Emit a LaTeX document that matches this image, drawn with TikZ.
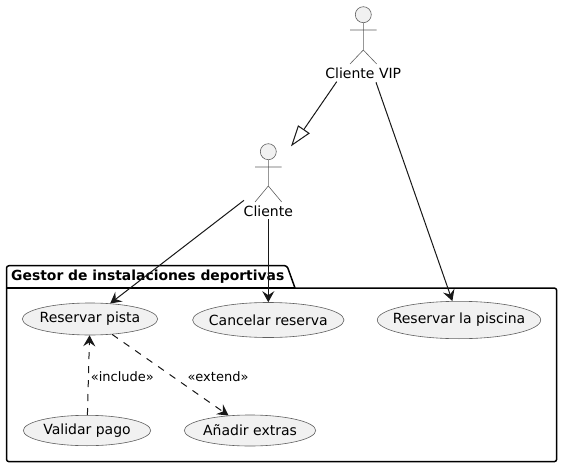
\documentclass[tikz,border=0pt]{standalone}
\usepackage{fontspec}
\setmainfont{DejaVu Sans}
\usetikzlibrary{arrows.meta,shapes.geometric}
\definecolor{ink}{HTML}{181818}
\definecolor{thin}{HTML}{606060}
\definecolor{ucfill}{HTML}{F1F1F1}
\tikzset{
  uc/.style={ellipse,draw=thin,line width=0.6pt,fill=ucfill,inner sep=0pt,font=\fontsize{14pt}{16pt}\selectfont,text=black},
  lbl/.style={inner sep=0pt,font=\fontsize{14pt}{16pt}\selectfont,text=black},
  smalllbl/.style={inner sep=0pt,font=\fontsize{13pt}{15pt}\selectfont,text=black},
  stick/.style={draw=thin,line width=0.6pt},
  head/.style={circle,draw=thin,line width=0.6pt,fill=ucfill,minimum size=16pt,inner sep=0pt},
  pkg/.style={draw=black,line width=1.5pt,line join=round},
  rel/.style={draw=ink,line width=1pt,-{Stealth[length=11pt,width=12pt,inset=4pt]}},
  dashrel/.style={rel,dash pattern=on 7pt off 7pt},
  gen/.style={draw=ink,line width=1pt}
}
\newcommand{\uctext}[1]{\makebox[0pt][c]{#1}}
\begin{document}
\begin{tikzpicture}[x=1pt,y=-1pt]
\path[fill=white] (0,0) rectangle (562,468);
\useasboundingbox (0,0) rectangle (562,468);
% package
\draw[pkg,rounded corners=2.5pt] (6.5,288) -- (6.5,265.7) -- (287,265.7) -- (295,288);
\draw[pkg,rounded corners=2.5pt] (295,288) -- (556.7,288) -- (556.7,461.7) -- (6.5,461.7) -- (6.5,288);
\draw[pkg] (6.5,288) -- (295,288);
\node[anchor=west,inner sep=0pt,font=\fontsize{13.9pt}{16pt}\selectfont\bfseries,text=black] (pkgtitle) at (11,276.5) {Gestor de instalaciones deportivas};
% actors
\node[head] (viphead) at (363.3,14.7) {};
\draw[stick] (viphead.south) -- (363.3,50) (350,30) -- (376.7,30) (350,64) -- (363.3,50) -- (376.7,64);
\node[lbl] (vip) at (363.3,73) {Cliente VIP};
\node[head] (clihead) at (268.3,151.7) {};
\draw[stick] (clihead.south) -- (268.3,186) (255,167) -- (281.7,167) (255,202) -- (268.3,186) -- (281.7,202);
\node[lbl] (cli) at (268.3,211) {Cliente};
% use cases
\node[uc,minimum width=135.4pt,minimum height=32pt] (res) at (90,319) {\uctext{Reservar pista}};
\node[uc,minimum width=151.4pt,minimum height=35pt] (can) at (268.3,320) {\uctext{Cancelar reserva}};
\node[uc,minimum width=163.4pt,minimum height=37.4pt] (pis) at (459,320) {\uctext{Reservar la piscina}};
\node[uc,minimum width=127.4pt,minimum height=30.4pt] (val) at (87,430.5) {\uctext{Validar pago}};
\node[uc,minimum width=131.4pt,minimum height=31pt] (ana) at (250,430.5) {\uctext{Añadir extras}};
% connector ends
\coordinate (vipA) at (336.7,81.7);
\coordinate (vipB) at (376,82.3);
\coordinate (cliA) at (244,200.3);
\coordinate (cliB) at (268.3,219);
\coordinate (genEnd) at (303.7,129.7);
\coordinate (genTip) at (292,145);
\coordinate (genL) at (298.3,126);
\coordinate (genR) at (309,133.3);
% connectors
\draw[gen] (vipA) -- (genEnd);
\draw[gen,fill=white,line join=miter] (genTip) -- (genL) -- (genR) -- cycle;
\draw[rel] (vipB) -- (pis);
\draw[rel] (cliA) -- (res);
\draw[rel] (cliB) -- (can);
\draw[dashrel] (val) -- (res);
\draw[dashrel] (res) -- (ana);
\node[smalllbl,anchor=west] (inc) at (90.7,376.7) {«include»};
\node[smalllbl,anchor=west] (ext) at (187.3,376.7) {«extend»};
\end{tikzpicture}
\end{document}
